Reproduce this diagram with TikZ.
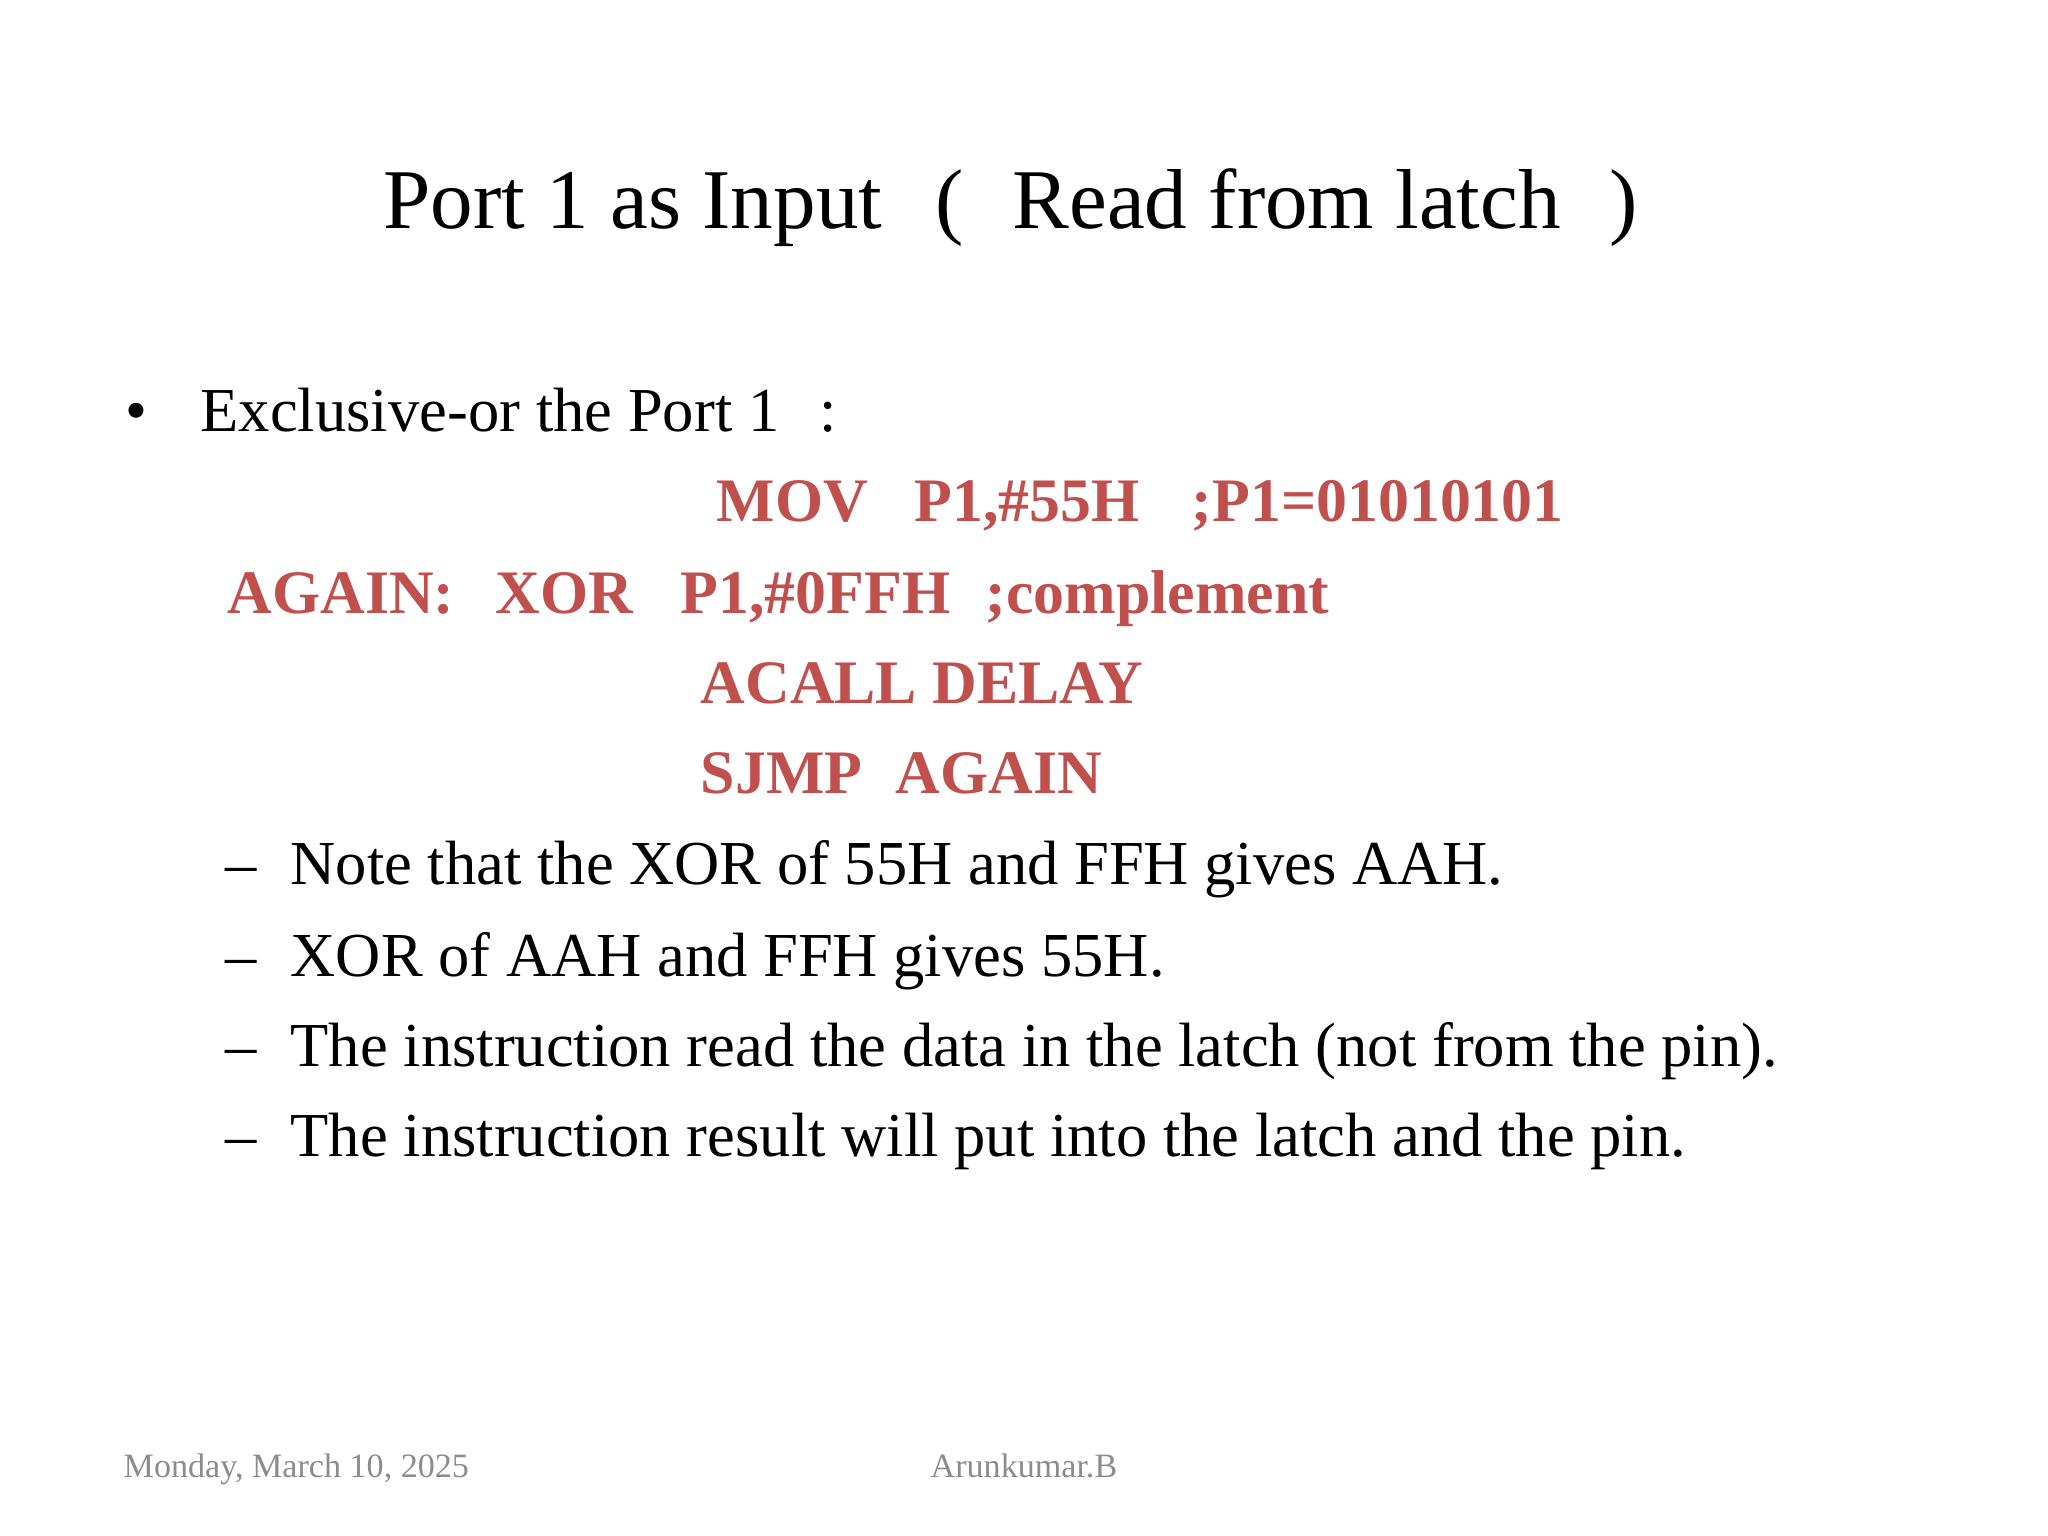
\documentclass[tikz,border=0pt]{standalone}
\usepackage{fontspec}
\setmainfont{Liberation Serif}
\definecolor{codered}{RGB}{192,80,77}
\definecolor{footgray}{RGB}{140,140,140}
\begin{document}
\begin{tikzpicture}[x=1cm,y=1cm,
  t/.style={anchor=base west,inner sep=0pt,font=\fontsize{17.8}{20}\selectfont},
  code/.style={anchor=base west,inner sep=0pt,text=codered,font=\fontsize{17.6}{20}\selectfont\bfseries},
  ttl/.style={anchor=base west,inner sep=0pt,font=\fontsize{24.2}{28}\selectfont},
  foot/.style={anchor=base west,inner sep=0pt,text=footgray,font=\fontsize{9.7}{12}\selectfont}]
\useasboundingbox (0,0) rectangle (20.48,15.36);
\node[ttl] (t1) at (3.83,13.07) {Port 1 as Input};
\node[ttl] (t2) at (9.35,13.07) {(};
\node[ttl] (t3) at (10.12,13.07) {Read from latch};
\node[ttl] (t4) at (16.09,13.07) {)};
\node[t] (b0) at (1.25,11.04) {•};
\node[t] (b1) at (2.00,11.04) {Exclusive-or the Port 1\hspace{0.4cm}:};
\node[code] (c1) at (7.16,10.14) {MOV};
\node[code] (c2) at (9.14,10.14) {P1,\#55H};
\node[code] (c3) at (11.91,10.14) {;P1=01010101};
\node[code] (c4) at (2.27,9.22) {AGAIN:};
\node[code] (c5) at (4.95,9.22) {XOR};
\node[code] (c6) at (6.80,9.22) {P1,\#0FFH};
\node[code] (c7) at (9.85,9.22) {;complement};
\node[code] (c8) at (7.00,8.32) {ACALL DELAY};
\node[code] (c9) at (7.00,7.42) {SJMP};
\node[code] (c10) at (8.95,7.42) {AGAIN};
\foreach \y/\s [count=\i] in {6.51/{Note that the XOR of 55H and FFH gives AAH.},
  5.59/{XOR of AAH and FFH gives 55H.},
  4.69/{The instruction read the data in the latch (not from the pin).},
  3.79/{The instruction result will put into the latch and the pin.}}{
  \node[t] (d\i) at (2.25,\y) {–};
  \node[t] (s\i) at (2.90,\y) {\s};
}
\node[foot] (f1) at (1.23,0.58) {Monday, March 10, 2025};
\node[foot] (f2) at (9.30,0.58) {Arunkumar.B};
\end{tikzpicture}
\end{document}
